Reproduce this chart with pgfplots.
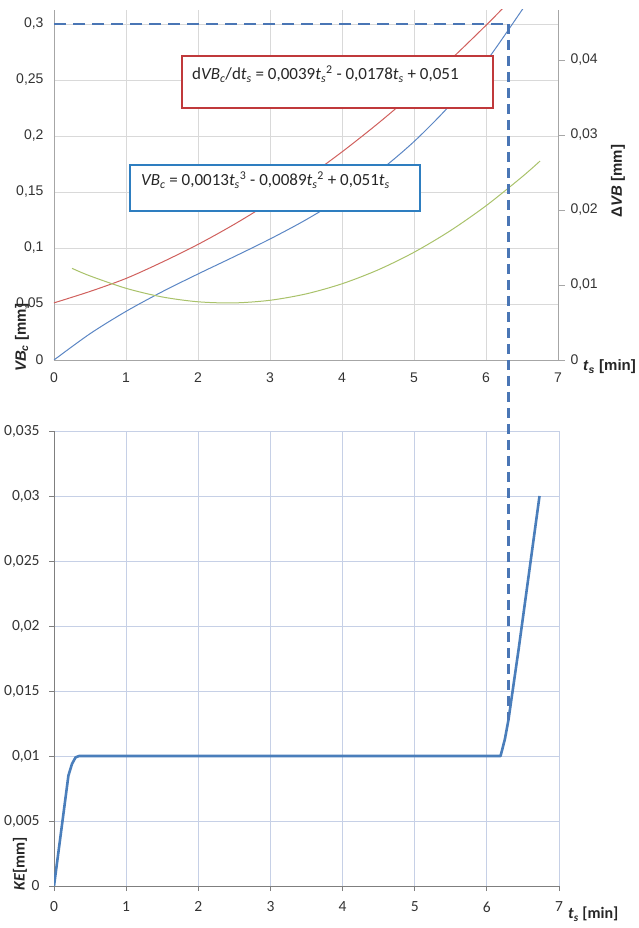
\documentclass[border=0pt]{standalone}
\usepackage{fontspec}
\setmainfont{Liberation Sans}
\newfontfamily\calibri{Carlito}
\usepackage{pgfplots}
\pgfplotsset{compat=1.18}
\definecolor{exblue}{HTML}{5B86C4}
\definecolor{exred}{HTML}{D0605D}
\definecolor{exgreen}{HTML}{A9C26A}
\definecolor{kblue}{HTML}{4A7EBB}
\definecolor{dashblue}{HTML}{4A76B5}
\definecolor{gridgray}{HTML}{D9D9D9}
\definecolor{gridblue}{HTML}{C6D0E6}
\definecolor{axgray}{HTML}{A6A6A6}
\definecolor{axdark}{HTML}{7F7F7F}
\definecolor{boxred}{HTML}{C0393B}
\definecolor{boxblue}{HTML}{2E7EC0}
\begin{document}
\begin{tikzpicture}
\useasboundingbox (0pt,0pt) rectangle (639pt,928pt);
% ---------- top chart, left axis ----------
\begin{axis}[
  at={(54pt,568pt)}, anchor=south west, scale only axis,
  width=504pt, height=350pt,
  xmin=0, xmax=7, ymin=0, ymax=0.3125,
  axis x line*=bottom, axis y line*=left,
  axis line style={draw=axgray, line width=0.8pt, -},
  xtick={0,1,2,3,4,5,6,7},
  ytick={0,0.05,0.1,0.15,0.2,0.25,0.3},
  scaled y ticks=false,
  major tick length=0pt,
  grid=major, grid style={draw=gridgray, line width=0.9pt},
  ticklabel style={font=\fontsize{14}{16}\selectfont, text=black!80},
  xticklabel style={yshift=-9pt},
  yticklabel style={xshift=-7pt},
  /pgf/number format/use comma, /pgf/number format/fixed,
  /pgf/number format/precision=3, /pgf/number format/assume math mode=true,
]
\addplot[exred, line width=1pt, smooth] coordinates {
 (0,0.051) (0.5,0.0612) (1,0.0728) (1.5,0.0873) (2,0.1032) (2.5,0.1210)
 (3,0.1407) (3.5,0.1623) (4,0.1858) (4.5,0.2112) (5,0.2385) (5.5,0.2677)
 (6,0.2988) (6.25,0.3151)};
\addplot[exblue, line width=1pt, smooth] coordinates {
 (0,0) (0.5,0.02344) (1,0.0434) (1.5,0.06086) (2,0.0768) (2.5,0.09219)
 (3,0.1080) (3.5,0.12521) (4,0.1448) (4.5,0.16774) (5,0.1950) (5.5,0.22756)
 (6,0.2664) (6.5,0.31249) (6.55,0.3175)};
\addplot[dashblue, line width=2.5pt, dash pattern=on 12pt off 7pt] coordinates {(0,0.3) (6.31,0.3)};
\coordinate (C1) at (axis cs:6.31,0.3);
\end{axis}
% ---------- top chart, right axis ----------
\begin{axis}[
  at={(54pt,568pt)}, anchor=south west, scale only axis,
  width=504pt, height=350pt,
  xmin=0, xmax=7, ymin=0, ymax=0.046667,
  axis x line=none, axis y line*=right,
  axis line style={draw=axgray, line width=0.8pt, -},
  ytick={0,0.01,0.02,0.03,0.04},
  scaled y ticks=false,
  tick align=outside, major tick length=7pt,
  tick style={draw=axgray, line width=0.8pt},
  ticklabel style={font=\fontsize{14}{16}\selectfont, text=black!80},
  yticklabel style={xshift=2pt},
  /pgf/number format/use comma, /pgf/number format/fixed,
  /pgf/number format/precision=3, /pgf/number format/assume math mode=true,
]
\addplot[exgreen, line width=1pt, smooth] coordinates {
 (0.25,0.01222) (0.5,0.01121) (1,0.00956) (1.5,0.00841) (2,0.00776)
 (2.5,0.00761) (3,0.00796) (3.5,0.00881) (4,0.01016) (4.5,0.01201)
 (5,0.01436) (5.5,0.01721) (6,0.02056) (6.5,0.02441) (6.75,0.02652)};
\end{axis}
% ---------- bottom chart ----------
\begin{axis}[
  at={(54pt,42pt)}, anchor=south west, scale only axis,
  width=505pt, height=455pt,
  xmin=0, xmax=7, ymin=0, ymax=0.035,
  axis x line*=bottom, axis y line*=left,
  axis line style={draw=axdark, line width=0.9pt, -},
  xtick={0,1,2,3,4,5,6,7},
  ytick={0,0.005,0.01,0.015,0.02,0.025,0.03,0.035},
  scaled y ticks=false,
  tick align=outside, major tick length=5pt,
  tick style={draw=axdark, line width=0.8pt},
  grid=major, grid style={draw=gridblue, line width=0.9pt},
  ticklabel style={font=\calibri\fontsize{15.5}{17}\selectfont, text=black!80},
  xticklabel style={yshift=-7pt},
  yticklabel style={xshift=-6pt},
  /pgf/number format/use comma, /pgf/number format/fixed,
  /pgf/number format/precision=3, /pgf/number format/assume math mode=true,
]
\addplot[kblue, line width=2.6pt, line join=round] coordinates {
 (0,0) (0.2,0.0085) (0.25,0.0094) (0.3,0.0099) (0.35,0.01)
 (6.19,0.01) (6.25,0.0113) (6.3,0.0128) (6.44,0.0182) (6.73,0.03)};
\coordinate (C2) at (axis cs:6.3,0.0128);
\end{axis}
\draw[dashblue, line width=2.5pt, dash pattern=on 10pt off 6pt] (C1) -- (C1 |- C2);
% ---------- annotation boxes ----------
\draw[boxred, line width=1.3pt, fill=white] (182pt,820pt) rectangle (493pt,872pt);
\node[anchor=west, inner sep=0pt, font=\calibri\fontsize{17}{19}\selectfont, text=black!85] at (192pt,854pt)
 {d\textit{VB}\textsubscript{\textit{c}}/d\textit{t}\textsubscript{\textit{s}} = 0,0039\textit{t}\textsubscript{\textit{s}}\textsuperscript{2} - 0,0178\textit{t}\textsubscript{\textit{s}} + 0,051};
\draw[boxblue, line width=1.3pt, fill=white] (130pt,717pt) rectangle (420pt,763pt);
\node[anchor=west, inner sep=0pt, font=\calibri\fontsize{17}{19}\selectfont, text=black!85] at (141pt,748pt)
 {\textit{VB}\textsubscript{\textit{c}} = 0,0013\textit{t}\textsubscript{\textit{s}}\textsuperscript{3} - 0,0089\textit{t}\textsubscript{\textit{s}}\textsuperscript{2} + 0,051\textit{t}\textsubscript{\textit{s}}};
% ---------- axis titles ----------
\node[rotate=90, inner sep=0pt, font=\bfseries\fontsize{15}{17}\selectfont, text=black!85] at (22pt,590pt)
 {\textit{VB}\textsubscript{\textit{c}} [mm]};
\node[rotate=90, inner sep=0pt, font=\bfseries\fontsize{15}{17}\selectfont, text=black!85] at (618pt,747pt)
 {Δ\textit{VB} [mm]};
\node[anchor=west, inner sep=0pt, font=\bfseries\fontsize{15}{17}\selectfont, text=black!85] at (583pt,561pt)
 {\textit{t}\textsubscript{\textit{s}} [min]};
\node[rotate=90, inner sep=0pt, font=\calibri\bfseries\fontsize{16}{18}\selectfont, text=black!85] at (20pt,64pt)
 {\textit{KE}[mm]};
\node[anchor=west, inner sep=0pt, font=\calibri\bfseries\fontsize{16}{18}\selectfont, text=black!85] at (568pt,14pt)
 {\textit{t}\textsubscript{\textit{s}} [min]};
\end{tikzpicture}
\end{document}
